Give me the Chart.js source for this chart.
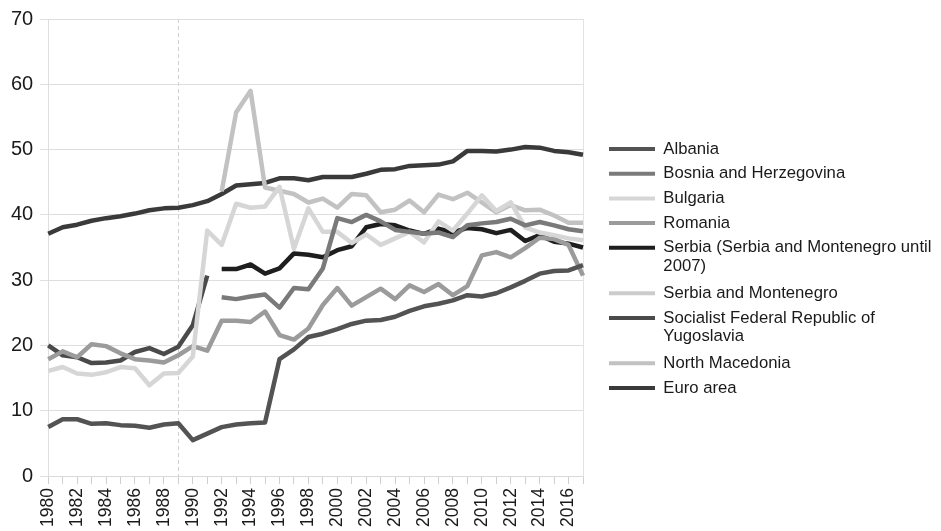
<!DOCTYPE html>
<html>
<head>
<meta charset="utf-8">
<style>
  html, body { margin: 0; padding: 0; background: #ffffff; }
  #wrap { width: 941px; height: 531px; }
</style>
<script src="https://cdn.jsdelivr.net/npm/chart.js@4/dist/chart.umd.min.js"></script>
</head>
<body>
<div id="wrap"><canvas id="c" width="941" height="531"></canvas></div>
<script>
const categories = ['1980','1981','1982','1983','1984','1985','1986','1987','1988','1989',
  '1990','1991','1992','1993','1994','1995','1996','1997','1998','1999',
  '2000','2001','2002','2003','2004','2005','2006','2007','2008','2009',
  '2010','2011','2012','2013','2014','2015','2016','2017'];

const albania = [7.5,8.7,8.7,8.0,8.1,7.8,7.7,7.4,7.9,8.1,
  5.5,6.5,7.5,7.9,8.1,8.2,17.9,19.4,21.3,21.8,
  22.5,23.3,23.8,23.9,24.4,25.3,26.0,26.4,26.9,27.7,
  27.5,28.0,28.9,29.9,31.0,31.4,31.5,32.3];

const bosnia = [null,null,null,null,null,null,null,null,null,null,
  null,null,27.4,27.1,27.5,27.8,25.8,28.8,28.6,31.8,
  39.5,38.9,40.0,39.0,37.7,37.4,37.1,37.3,36.6,38.4,
  38.7,38.9,39.4,38.4,38.9,38.4,37.8,37.5];

const bulgaria = [16.1,16.7,15.7,15.5,15.9,16.7,16.5,13.9,15.7,15.8,
  18.3,37.6,35.4,41.7,41.1,41.3,44.3,34.8,41.0,37.4,
  37.4,35.7,37.0,35.4,36.4,37.4,35.8,39.0,37.6,40.2,
  43.0,40.6,41.9,38.1,37.3,36.9,36.4,36.1];

const romania = [17.9,19.1,18.2,20.2,19.9,18.8,17.9,17.7,17.4,18.5,
  19.9,19.2,23.8,23.8,23.6,25.2,21.6,20.9,22.6,26.2,
  28.8,26.1,27.4,28.7,27.1,29.2,28.2,29.4,27.7,29.1,
  33.8,34.3,33.5,34.9,36.5,36.3,35.4,30.7];

const serbia = [null,null,null,null,null,null,null,null,null,null,
  null,null,31.7,31.7,32.4,31.0,31.8,34.1,33.9,33.5,
  34.6,35.2,38.1,38.6,38.4,37.6,37.1,37.9,37.3,38.0,
  37.8,37.2,37.7,36.0,36.9,35.9,35.6,35.0];

const serbiaMontenegro = [null,null,null,null,null,null,null,null,null,null,
  null,null,null,null,null,null,null,null,null,null,
  null,null,null,null,null,null,null,null,null,null,
  null,null,null,null,null,null,null,null];

const sfry = [20.0,18.5,18.2,17.3,17.4,17.7,19.0,19.6,18.7,19.8,
  23.1,30.7,null,null,null,null,null,null,null,null,
  null,null,null,null,null,null,null,null,null,null,
  null,null,null,null,null,null,null,null];

const northMacedonia = [null,null,null,null,null,null,null,null,null,null,
  null,null,43.6,55.7,59.0,44.2,43.7,43.2,41.9,42.5,
  41.1,43.2,43.0,40.4,40.8,42.2,40.4,43.1,42.4,43.4,
  41.9,40.4,41.5,40.7,40.8,39.9,38.8,38.8];

const euroArea = [37.1,38.1,38.5,39.1,39.5,39.8,40.2,40.7,41.0,41.1,
  41.5,42.1,43.2,44.5,44.7,44.9,45.6,45.6,45.3,45.8,
  45.8,45.8,46.3,46.9,47.0,47.5,47.6,47.7,48.2,49.8,
  49.8,49.7,50.0,50.4,50.3,49.8,49.6,49.2];

const seriesNames = ['Albania','Bosnia and Herzegovina','Bulgaria','Romania',
  'Serbia (Serbia and Montenegro until 2007)','Serbia and Montenegro',
  'Socialist Federal Republic of Yugoslavia','North Macedonia','Euro area'];

const legendLines = {
  'Serbia (Serbia and Montenegro until 2007)': ['Serbia (Serbia and Montenegro until', '2007)'],
  'Socialist Federal Republic of Yugoslavia': ['Socialist Federal Republic of', 'Yugoslavia']
};

const yTicks = [0,10,20,30,40,50,60,70];
const markedYear = '1989';

const seriesValues = [albania,bosnia,bulgaria,romania,serbia,serbiaMontenegro,sfry,northMacedonia,euroArea];
const seriesColors = ['#535353','#7a7a7a','#d6d6d6','#9b9b9b','#1e1e1e','#cccccc','#4a4a4a','#c2c2c2','#3a3a3a'];

const FONT = '"Liberation Sans", Arial, Helvetica, sans-serif';

const datasets = seriesNames.map((name, i) => ({
  label: name,
  data: seriesValues[i],
  borderColor: seriesColors[i],
  backgroundColor: seriesColors[i],
  borderWidth: 4.5,
  pointRadius: 0,
  pointHoverRadius: 0,
  tension: 0,
  spanGaps: false,
  fill: false,
  borderJoinStyle: 'round',
  borderCapStyle: 'butt'
}));

new Chart(document.getElementById('c'), {
  type: 'line',
  data: { labels: categories, datasets },
  options: {
    responsive: false,
    animation: false,
    events: [],
    layout: { padding: { left: 4, right: 4, top: 6, bottom: 0 } },
    plugins: {
      tooltip: { enabled: false },
      legend: {
        position: 'right',
        align: 'center',
        maxWidth: 336,
        labels: {
          boxWidth: 46,
          boxHeight: 4,
          padding: 8,
          color: '#1a1a1a',
          font: { family: FONT, size: 16.7, lineHeight: 1.12 },
          generateLabels: (chart) => {
            const items = Chart.defaults.plugins.legend.labels.generateLabels(chart);
            items.forEach(it => {
              const name = seriesNames[it.datasetIndex];
              if (legendLines[name]) it.text = legendLines[name];
              it.lineWidth = 0;
              it.strokeStyle = 'rgba(0,0,0,0)';
            });
            return items;
          }
        }
      }
    },
    scales: {
      x: {
        type: 'category',
        offset: false,
        ticks: {
          autoSkip: false,
          maxRotation: 90,
          minRotation: 90,
          padding: 4,
          color: '#1a1a1a',
          font: { family: FONT, size: 17.5 },
          callback: (v, i) => (i % 2 === 0 ? categories[i] : '')
        },
        grid: {
          drawOnChartArea: true,
          color: (ctx) => (ctx.tick && categories[ctx.index] === markedYear ? '#cfcfcf' : 'rgba(0,0,0,0)'),
          tickColor: '#cfcfcf',
          tickLength: 8,
          lineWidth: 1
        },
        border: { display: true, color: '#d9d9d9', dash: [4, 3] }
      },
      y: {
        min: 0,
        max: 70,
        afterBuildTicks: (axis) => { axis.ticks = yTicks.map(v => ({ value: v })); },
        ticks: {
          padding: 7,
          color: '#1a1a1a',
          font: { family: FONT, size: 20 }
        },
        grid: { color: '#dedede', tickLength: 8, lineWidth: 1 },
        border: { color: '#dedede' }
      },
      yRight: {
        position: 'right',
        min: 0,
        max: 70,
        ticks: { display: false },
        grid: { drawOnChartArea: false, drawTicks: true, tickLength: 18, tickColor: 'rgba(0,0,0,0)' },
        border: { display: true, color: '#e3e3e3' }
      }
    }
  }
});
</script>
</body>
</html>
